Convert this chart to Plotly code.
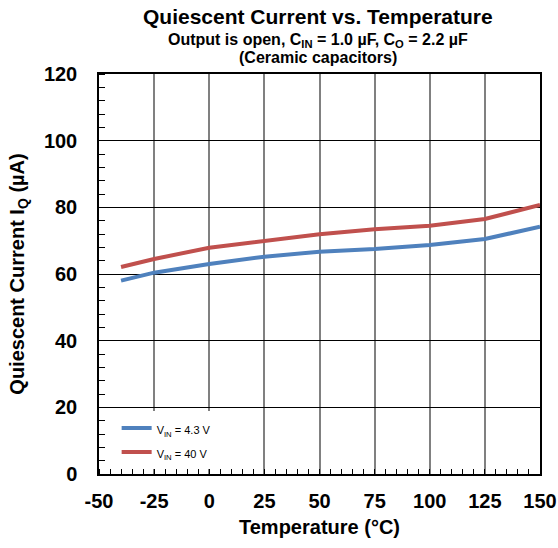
import plotly.graph_objects as go

temps = [-40, -25, 0, 25, 50, 75, 100, 125, 150]
iq_4v3 = [58.0, 60.4, 63.0, 65.2, 66.7, 67.5, 68.7, 70.5, 74.2]
iq_40v = [62.1, 64.5, 67.9, 70.0, 71.9, 73.4, 74.5, 76.5, 80.7]
x_ticks = [-50, -25, 0, 25, 50, 75, 100, 125, 150]
y_ticks = [0, 20, 40, 60, 80, 100, 120]

FONT = "Liberation Sans, Arial, sans-serif"

fig = go.Figure()
fig.add_trace(go.Scatter(x=temps, y=iq_4v3, mode="lines",
                         name="<span style='font-size:11px'>V<sub>IN</sub> = 4.3 V</span>",
                         line=dict(color="#4F81BD", width=4)))
fig.add_trace(go.Scatter(x=temps, y=iq_40v, mode="lines",
                         name="<span style='font-size:11px'>V<sub>IN</sub> = 40 V</span>",
                         line=dict(color="#C0504D", width=4)))

fig.update_layout(
    width=558, height=548,
    margin=dict(l=99, r=18, t=74, b=74, autoexpand=False),
    paper_bgcolor="white", plot_bgcolor="white",
    font=dict(family=FONT, color="black"),
    showlegend=True,
    legend=dict(x=0.04, y=0.012, xanchor="left", yanchor="bottom",
                bgcolor="rgba(255,255,255,1)", font=dict(size=16, family=FONT),
                tracegroupgap=0, itemwidth=30),
)

titles = [
    ("<b>Quiescent Current vs. Temperature</b>", 21, 17),
    ("<b>Output is open, C<sub>IN</sub> = 1.0 µF, C<sub>O</sub> = 2.2 µF</b>", 16, 40),
    ("<b>(Ceramic capacitors)</b>", 16, 57),
]
for txt, sz, ypx in titles:
    fig.add_annotation(text=txt, xref="paper", yref="paper",
                       x=(318 - 99) / 441, y=1 + (74 - ypx) / 400,
                       xanchor="center", yanchor="middle", showarrow=False,
                       font=dict(size=sz, family=FONT, color="black"))

fig.update_xaxes(
    range=[-50, 150], tickvals=x_ticks, ticktext=[str(v) for v in x_ticks],
    showgrid=True, gridcolor="#808080", gridwidth=1.5,
    showline=True, linecolor="black", linewidth=1.5, mirror=True,
    ticks="", zeroline=False, ticklabelstandoff=8, automargin=False,
    tickfont=dict(size=20, family=FONT, color="black", weight="bold"),
    title=dict(text="<b>Temperature (°C)</b>", font=dict(size=20, family=FONT), standoff=9),
    minor=dict(dtick=5, ticks="inside", ticklen=5, tickcolor="black", showgrid=False, tick0=-50),
)
fig.update_yaxes(
    range=[0, 120], tickvals=y_ticks, ticktext=[str(v) for v in y_ticks],
    showgrid=True, gridcolor="black", gridwidth=1.2,
    showline=True, linecolor="black", linewidth=1.5, mirror=True,
    ticks="", zeroline=False, ticklabelstandoff=16, automargin=False,
    tickfont=dict(size=20, family=FONT, color="black", weight="bold"),
    title=dict(text="<b>Quiescent Current I<sub>Q</sub> (µA)</b>", font=dict(size=20, family=FONT), standoff=14),
    minor=dict(dtick=4, ticks="inside", ticklen=6, tickcolor="black", showgrid=False, tick0=0),
)

fig.write_html("out.html")
